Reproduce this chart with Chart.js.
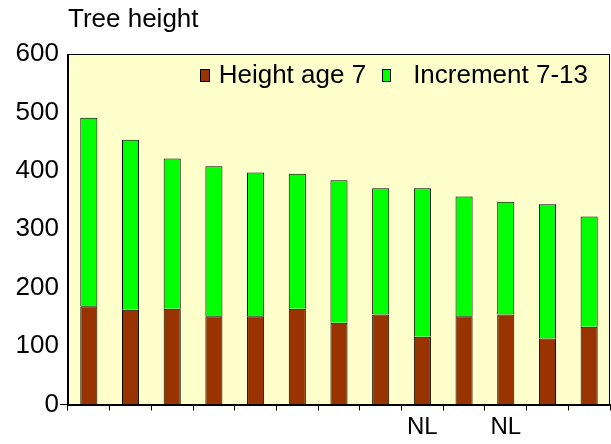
<!DOCTYPE html>
<html>
<head>
<meta charset="utf-8">
<script src="https://cdn.jsdelivr.net/npm/chart.js@4.4.0/dist/chart.umd.min.js"></script>
<style>
html,body{margin:0;padding:0;background:#fff;}
#wrap{width:611px;height:444px;position:relative;}
</style>
</head>
<body>
<div id="wrap"><canvas id="c" width="611" height="444"></canvas></div>
<script>
const categories = ['', '', '', '', '', '', '', '', 'NL', '', 'NL', '', ''];
const heightAge7 = [168, 162, 164, 151, 151, 164, 140, 154, 116, 151, 154, 113, 133];
const increment713 = [323, 291, 257, 257, 246, 231, 244, 216, 254, 205, 193, 230, 189];
const yTicks = [0, 100, 200, 300, 400, 500, 600];
const seriesNames = ['Height age 7', 'Increment 7-13'];
const seriesColors = ['#993300', '#00FF00'];
const titleText = 'Tree height';

const FONT = "Arial, 'Liberation Sans', sans-serif";

const plotFrame = {
  id: 'plotFrame',
  beforeDraw(chart) {
    const {ctx, chartArea: a} = chart;
    ctx.save();
    ctx.fillStyle = '#FFFFCC';
    ctx.fillRect(a.left, a.top, a.right - a.left, a.bottom - a.top);
    ctx.restore();
  },
  afterDraw(chart) {
    const {ctx, chartArea: a} = chart;
    ctx.save();
    ctx.strokeStyle = '#000';
    ctx.lineWidth = 1;
    ctx.strokeRect(Math.round(a.left) + 0.5, Math.round(a.top) + 0.5,
      Math.round(a.right - a.left) - 1, Math.round(a.bottom - a.top));
    // legend inside the plot area, top right
    ctx.font = '26px ' + FONT;
    ctx.textBaseline = 'middle';
    ctx.textAlign = 'left';
    const ds = chart.data.datasets;
    const w1 = ctx.measureText(ds[0].label).width;
    const w2 = ctx.measureText(ds[1].label).width;
    const end2 = a.right - 22;
    const t2 = end2 - w2;
    const b2r = t2 - 22, b2l = b2r - 9;
    const end1 = b2l - 16;
    const t1 = end1 - w1;
    const b1r = t1 - 9, b1l = b1r - 10;
    const by = a.top + 15, bh = 13, ty = a.top + 22;
    ctx.lineWidth = 1;
    ctx.fillStyle = ds[0].backgroundColor;
    ctx.fillRect(Math.round(b1l), by, Math.round(b1r - b1l), bh);
    ctx.strokeRect(Math.round(b1l) + 0.5, by + 0.5, Math.round(b1r - b1l) - 1, bh - 1);
    ctx.fillStyle = ds[1].backgroundColor;
    ctx.fillRect(Math.round(b2l), by, Math.round(b2r - b2l), bh);
    ctx.strokeRect(Math.round(b2l) + 0.5, by + 0.5, Math.round(b2r - b2l) - 1, bh - 1);
    ctx.fillStyle = '#000';
    ctx.fillText(ds[0].label, t1, ty);
    ctx.fillText(ds[1].label, t2, ty);
    ctx.restore();
  }
};

new Chart(document.getElementById('c'), {
  type: 'bar',
  data: {
    labels: categories,
    datasets: [
      {label: seriesNames[0], data: heightAge7, backgroundColor: seriesColors[0], borderColor: '#000', borderWidth: 1,
       barPercentage: 0.41, categoryPercentage: 1},
      {label: seriesNames[1], data: increment713, backgroundColor: seriesColors[1], borderColor: '#000', borderWidth: 1,
       barPercentage: 0.41, categoryPercentage: 1}
    ]
  },
  options: {
    responsive: false,
    animation: false,
    layout: {padding: {left: 14.6, right: 1, top: 0, bottom: 0}},
    plugins: {
      tooltip: {enabled: false},
      title: {
        display: true, text: titleText, align: 'start', fullSize: false,
        color: '#000', font: {family: FONT, size: 26, weight: 'normal'},
        padding: {top: 4, bottom: 18.8}
      },
      legend: {display: false}
    },
    scales: {
      x: {
        stacked: true,
        grid: {display: true, drawOnChartArea: false, drawTicks: true, tickLength: 6, color: '#000', offset: true},
        border: {display: true, color: '#000'},
        ticks: {color: '#000', font: {family: FONT, size: 24, lineHeight: 1}, padding: 4.75, maxRotation: 0, autoSkip: false}
      },
      y: {
        stacked: true, min: 0, max: 600,
        afterBuildTicks(scale) { scale.ticks = yTicks.map(v => ({value: v})); },
        grid: {display: true, drawOnChartArea: false, drawTicks: true, tickLength: 8,
               color: (c) => (c.tick && c.tick.value === 0) ? '#000' : 'rgba(0,0,0,0)'},
        border: {display: true, color: '#000'},
        ticks: {color: '#000', font: {family: FONT, size: 26}, padding: 1}
      }
    }
  },
  plugins: [plotFrame]
});
</script>
</body>
</html>
